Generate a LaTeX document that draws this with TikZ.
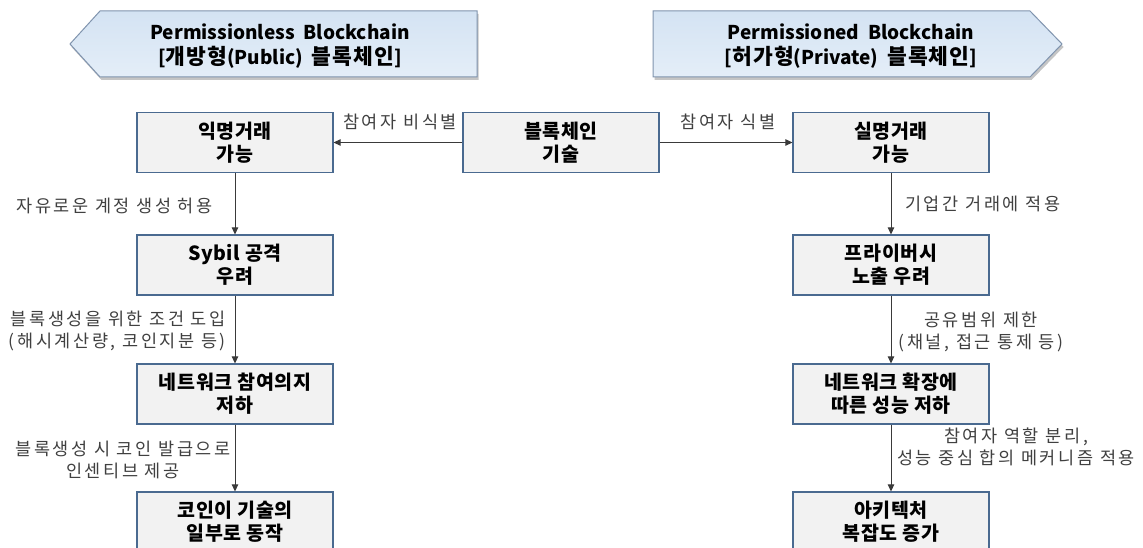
\documentclass[tikz,border=0pt]{standalone}
\usepackage{fontspec}
\setmainfont{Noto Sans CJK KR}
\newfontfamily\lblfont[LetterSpace=15]{Noto Sans CJK KR}
\newfontfamily\boxfont[LetterSpace=3]{Noto Sans CJK KR}
\newfontfamily\bankor[LetterSpace=5]{Noto Sans CJK KR}
\newcommand\kb[1]{{\bankor\bfseries\fontsize{21.5}{25}\selectfont #1}}
\usetikzlibrary{arrows.meta,shadows}
\definecolor{boxblue}{HTML}{4A6A90}
\definecolor{boxgray}{HTML}{F2F2F2}
\definecolor{bantop}{HTML}{D4E3F3}
\definecolor{banbot}{HTML}{E4EEF8}
\definecolor{banline}{HTML}{8094AE}
\definecolor{lblgray}{HTML}{404040}
\definecolor{arrgray}{HTML}{3A3A3A}
\tikzset{
  stepbox/.style={draw=boxblue, fill=boxgray, line width=1.2pt, minimum width=196pt,
    minimum height=60pt, inner sep=0pt, align=center,
    font=\boxfont\bfseries\fontsize{19.5}{23}\selectfont},
  lbl/.style={inner sep=0pt, text=lblgray, font=\lblfont\fontsize{17.5}{22}\selectfont},
  arr/.style={draw=arrgray, line width=0.8pt, -{Triangle[length=7pt,width=6.5pt]}},
  banner/.style={draw=banline, line width=1pt, top color=bantop, bottom color=banbot,
    drop shadow={shadow xshift=1.5pt, shadow yshift=-3pt, fill=black!45, opacity=0.5}},
  bantext/.style={inner sep=0pt, align=center, font=\bfseries\fontsize{19}{25}\selectfont}
}
\begin{document}
\begin{tikzpicture}[x=1pt,y=-1pt]
\useasboundingbox (0,0) rectangle (1143,548);
\clip (0,0) rectangle (1143,548);
\fill[white] (0,0) rectangle (1143,548);
% banners
\path[banner] (70,44) -- (100,11) -- (477,11) -- (477,77) -- (100,77) -- cycle;
\node[bantext] (bl) at (280,46) {Permissionless\ \ Blockchain\\{}[\kb{개방형}(Public)\ \ \kb{블록체인}]};
\path[banner] (653,11) -- (1030,11) -- (1062,44) -- (1030,77) -- (653,77) -- cycle;
\node[bantext] (br) at (851,46) {Permissioned\ \ Blockchain\\{}[\kb{허가형}(Private)\ \ \kb{블록체인}]};
% boxes
\node[stepbox] (c)  at (561,142.5) {블록체인\\기술};
\node[stepbox] (a1) at (235,142.5) {익명거래\\가능};
\node[stepbox] (b1) at (891,142.5) {실명거래\\가능};
\node[stepbox] (a2) at (235,265) {Sybil 공격\\우려};
\node[stepbox] (b2) at (891,265) {프라이버시\\노출 우려};
\node[stepbox] (a3) at (235,394) {네트워크 참여의지\\저하};
\node[stepbox] (b3) at (891,394) {네트워크 확장에\\따른 성능 저하};
\node[stepbox] (a4) at (235,522) {코인이 기술의\\일부로 동작};
\node[stepbox] (b4) at (891,522) {아키텍처\\복잡도 증가};
% connectors
\draw[arr] (c) -- (a1);
\draw[arr] (c) -- (b1);
\draw[arr] (a1) -- (a2);
\draw[arr] (a2) -- (a3);
\draw[arr] (a3) -- (a4);
\draw[arr] (b1) -- (b2);
\draw[arr] (b2) -- (b3);
\draw[arr] (b3) -- (b4);
% labels
\node[lbl] (t1) at (400,122) {참여자 비식별};
\node[lbl] (t2) at (728,122) {참여자 식별};
\node[lbl, anchor=east] (l1) at (213,206) {자유로운 계정 생성 허용};
\node[lbl, anchor=east, align=right] (l2) at (226,331) {블록생성을 위한 조건 도입\\(해시계산량, 코인지분 등)};
\node[lbl, align=center] (l3) at (123,460) {블록생성 시 코인 발급으로\\인센티브 제공};
\node[lbl, anchor=west] (r1) at (905,204) {기업간 거래에 적용};
\node[lbl, align=center] (r2) at (981,332) {공유범위 제한\\(채널, 접근 통제 등)};
\node[lbl, align=center] (r3) at (1016,447) {참여자 역할 분리,\\성능 중심 합의 메커니즘 적용};
\end{tikzpicture}
\end{document}
